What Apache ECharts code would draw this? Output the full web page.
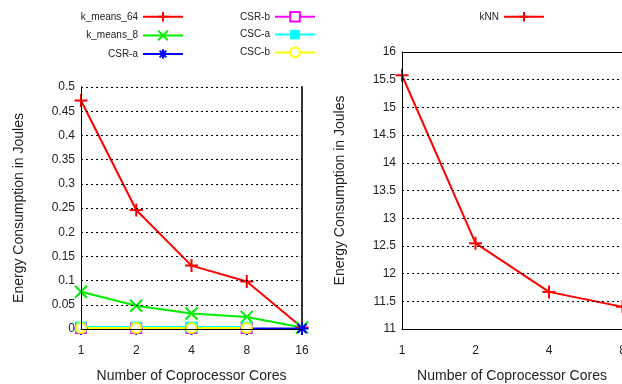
<!DOCTYPE html>
<html>
<head>
<meta charset="utf-8">
<script src="https://cdn.jsdelivr.net/npm/echarts@6/dist/echarts.min.js"></script>
<style>
  html, body { margin: 0; padding: 0; background: #fff; }
  #chart { width: 622px; height: 384px; }
</style>
</head>
<body>
<div id="chart"></div>
<script>
// Coprocessor core counts (x categories)
const cores = ['1', '2', '4', '8', '16'];

// Energy consumption in Joules, left panel
const kMeans64 = [0.472, 0.246, 0.131, 0.098, 0.003];
const kMeans8  = [0.077, 0.048, 0.032, 0.025, 0.003];
const csrA     = [0.001, 0.001, 0.001, 0.001, 0.001];
const csrB     = [0.002, 0.002, 0.002, 0.002, null];
const cscA     = [0.004, 0.004, 0.004, 0.004, null];
const cscB     = [0.002, 0.002, 0.002, 0.002, null];

// Energy consumption in Joules, right panel (the 16-core point lies past the frame)
const kNN = [15.58, 12.55, 11.67, 11.40, null];

const FONT = 'Liberation Sans';
const TXT = '#222';

const SYM_PLUS = 'path://M0,6H12M6,0V12';
const SYM_X = 'path://M0,0L12,12M12,0L0,12';
const SYM_STAR = 'path://M0,6H12M6,0V12M1.8,1.8L10.2,10.2M10.2,1.8L1.8,10.2';

function lineSeries(name, data, color, symbol, size, xi, fill, extra) {
  return Object.assign({
    name: name,
    type: 'line',
    xAxisIndex: xi,
    yAxisIndex: xi,
    data: data,
    symbol: symbol,
    symbolSize: size,
    showSymbol: true,
    connectNulls: false,
    animation: false,
    color: color,
    lineStyle: { color: color, width: 2 },
    itemStyle: { color: fill, borderColor: color, borderWidth: 2 },
    emphasis: { disabled: true }
  }, extra || {});
}

const grids = [
  { left: 81, top: 87, width: 221, height: 242, outerBoundsMode: 'none' },
  { left: 402, top: 52, width: 294, height: 277, outerBoundsMode: 'none' }
];

// shiftLeft moves the axis title left of the axis midpoint (right panel is clipped by the page edge)
function xAxisDef(gi, shiftLeft) {
  return {
    type: 'category', gridIndex: gi, data: cores, boundaryGap: false,
    axisLine: { show: true, lineStyle: { color: '#000', width: 1 } },
    axisTick: { show: false },
    axisLabel: { color: TXT, fontFamily: FONT, fontSize: 12, margin: 16, hideOverlap: false },
    splitLine: { show: false },
    name: 'Number of Coprocessor Cores', nameLocation: 'middle', nameGap: 40,
    nameTextStyle: { color: TXT, fontFamily: FONT, fontSize: 14, padding: [0, shiftLeft * 2, 0, 0] },
    z: 10
  };
}
function topAxisDef(gi) {
  return {
    type: 'category', gridIndex: gi, data: cores, boundaryGap: false, position: 'top',
    axisLine: { show: true, lineStyle: { color: '#000', width: 1 } },
    axisTick: { show: false }, axisLabel: { show: false }, splitLine: { show: false }
  };
}
function yAxisDef(gi, min, max, step, gap) {
  return {
    type: 'value', gridIndex: gi, min: min, max: max, interval: step,
    axisLine: { show: true, lineStyle: { color: '#000', width: 1 } },
    axisTick: { show: false },
    axisLabel: { color: TXT, fontFamily: FONT, fontSize: 12, margin: 6 },
    splitLine: { show: true, lineStyle: { color: '#000', width: 1, type: [2, 3] } },
    name: 'Energy Consumption in Joules', nameLocation: 'middle', nameGap: gap,
    nameTextStyle: { color: TXT, fontFamily: FONT, fontSize: 14 },
    z: 10
  };
}

const legendText = { color: TXT, fontFamily: FONT, fontSize: 10 };
function legendDef(names, right, top) {
  return {
    data: names, orient: 'vertical', right: right, top: top, align: 'right',
    itemWidth: 40, itemHeight: 12, itemGap: 7, textStyle: legendText,
    selectedMode: false, padding: 0
  };
}

const option = {
  animation: false,
  backgroundColor: '#fff',
  grid: grids,
  legend: [
    legendDef(['k_means_64', 'k_means_8', 'CSR-a'], 438, 11),
    legendDef(['CSR-b', 'CSC-a', 'CSC-b'], 306, 11),
    legendDef(['kNN'], 77, 11)
  ],
  xAxis: [xAxisDef(0, 0), xAxisDef(1, 37), topAxisDef(0), topAxisDef(1)],
  yAxis: [
    yAxisDef(0, 0, 0.5, 0.05, 55),
    yAxisDef(1, 11, 16, 0.5, 55),
    {
      type: 'value', gridIndex: 0, position: 'right', min: 0, max: 0.5,
      axisLine: { show: true, lineStyle: { color: '#333', width: 2 } },
      axisTick: { show: false }, axisLabel: { show: false }, splitLine: { show: false }
    }
  ],
  series: [
    lineSeries('k_means_64', kMeans64, '#ff0000', SYM_PLUS, 13, 0, '#ff0000'),
    lineSeries('k_means_8', kMeans8, '#00ee00', SYM_X, 12, 0, '#00ee00'),
    lineSeries('CSR-a', csrA, '#0000ff', SYM_STAR, 13, 0, '#0000ff'),
    lineSeries('CSR-b', csrB, '#ff00ff', 'rect', 10, 0, '#ffffff'),
    lineSeries('CSC-a', cscA, '#00ffff', 'rect', 11, 0, '#00ffff', { itemStyle: { color: '#00ffff', borderWidth: 0 } }),
    lineSeries('CSC-b', cscB, '#ffff00', 'circle', 10, 0, '#ffffff'),
    lineSeries('kNN', kNN, '#ff0000', SYM_PLUS, 13, 1, '#ff0000')
  ]
};

const chart = echarts.init(document.getElementById('chart'), null, { renderer: 'canvas' });
chart.setOption(option);
</script>
</body>
</html>
